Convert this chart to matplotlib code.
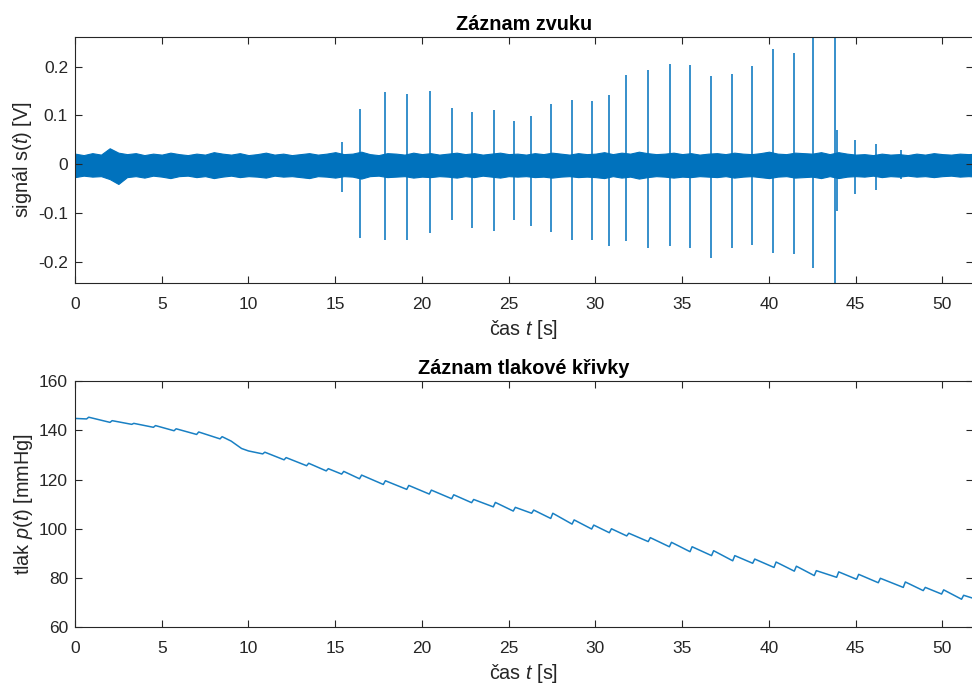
import numpy as np
import matplotlib
matplotlib.use("Agg")
import matplotlib.pyplot as plt

plt.rcParams['font.family'] = ['Liberation Sans', 'DejaVu Sans']
plt.rcParams['mathtext.fontset'] = 'custom'
plt.rcParams['mathtext.rm'] = 'Liberation Sans'
plt.rcParams['mathtext.it'] = 'Liberation Sans:italic'

# ---------------- data: sound record ----------------
# envelope of the background noise, every 0.5 s from 0 to 52 s
noise_t = np.arange(0, 52.5, 0.5)
noise_upper = [0.022, 0.019, 0.023, 0.020, 0.033, 0.024, 0.021, 0.023, 0.019, 0.022,
               0.020, 0.024, 0.021, 0.019, 0.022, 0.020, 0.025, 0.022, 0.020, 0.023,
               0.019, 0.021, 0.024, 0.020, 0.022, 0.019, 0.021, 0.023, 0.020, 0.022,
               0.025, 0.021, 0.022, 0.026, 0.021, 0.019, 0.023, 0.022, 0.020, 0.024,
               0.021, 0.023, 0.020, 0.022, 0.024, 0.021, 0.023, 0.020, 0.022, 0.024,
               0.021, 0.022, 0.020, 0.023, 0.021, 0.024, 0.022, 0.020, 0.023, 0.021,
               0.022, 0.025, 0.021, 0.024, 0.022, 0.026, 0.023, 0.021, 0.022, 0.024,
               0.021, 0.023, 0.020, 0.022, 0.023, 0.021, 0.024, 0.022, 0.021, 0.023,
               0.026, 0.022, 0.021, 0.024, 0.023, 0.022, 0.025, 0.021, 0.025, 0.022,
               0.020, 0.021, 0.019, 0.022, 0.020, 0.021, 0.019, 0.022, 0.020, 0.023,
               0.021, 0.020, 0.022, 0.021, 0.022]
noise_lower = [-0.026, -0.023, -0.025, -0.024, -0.030, -0.040, -0.026, -0.024, -0.027, -0.023,
               -0.025, -0.028, -0.024, -0.023, -0.026, -0.024, -0.028, -0.025, -0.023, -0.026,
               -0.024, -0.025, -0.027, -0.023, -0.025, -0.024, -0.026, -0.028, -0.024, -0.025,
               -0.027, -0.024, -0.025, -0.029, -0.024, -0.023, -0.026, -0.025, -0.024, -0.027,
               -0.025, -0.026, -0.024, -0.025, -0.027, -0.024, -0.026, -0.023, -0.025, -0.027,
               -0.024, -0.025, -0.024, -0.026, -0.025, -0.027, -0.025, -0.024, -0.026, -0.025,
               -0.026, -0.028, -0.024, -0.027, -0.025, -0.029, -0.026, -0.024, -0.025, -0.027,
               -0.025, -0.026, -0.024, -0.025, -0.026, -0.024, -0.027, -0.025, -0.024, -0.026,
               -0.028, -0.025, -0.024, -0.027, -0.026, -0.025, -0.028, -0.024, -0.028, -0.025,
               -0.024, -0.025, -0.023, -0.026, -0.024, -0.025, -0.023, -0.025, -0.024, -0.026,
               -0.024, -0.023, -0.025, -0.024, -0.025]

spike_t = [15.41, 16.41, 17.87, 19.14, 20.46, 21.71, 22.90, 24.13, 25.28, 26.30,
           27.42, 28.66, 29.80, 30.80, 31.74, 33.01, 34.32, 35.43, 36.68, 37.89,
           39.00, 40.21, 41.42, 42.55, 43.82, 43.90, 44.97, 46.18, 47.60]
spike_top = [0.045, 0.114, 0.149, 0.144, 0.151, 0.116, 0.108, 0.111, 0.089, 0.099,
             0.124, 0.132, 0.129, 0.142, 0.183, 0.193, 0.205, 0.203, 0.181, 0.184,
             0.202, 0.236, 0.227, 0.270, 0.270, 0.071, 0.050, 0.042, 0.030]
spike_bot = [-0.056, -0.151, -0.154, -0.155, -0.141, -0.113, -0.129, -0.137, -0.113, -0.125,
             -0.139, -0.155, -0.155, -0.166, -0.156, -0.171, -0.167, -0.171, -0.191, -0.171,
             -0.164, -0.181, -0.184, -0.211, -0.260, -0.096, -0.060, -0.052, -0.030]

# ---------------- data: pressure record ----------------
beat_t = [0.67, 2.02, 3.27, 4.52, 5.71, 7.01, 8.36, 10.82, 12.05, 13.35,
          14.48, 15.37, 16.40, 17.77, 19.12, 20.42, 21.71, 22.86, 24.11, 25.26,
          26.32, 27.42, 28.65, 29.78, 30.80, 31.80, 33.04, 34.26, 35.45, 36.69,
          37.91, 39.06, 40.29, 41.46, 42.61, 43.90, 45.05, 46.30, 47.74, 48.89,
          49.95, 51.10]
beat_dip = [144.6, 143.2, 142.4, 141.2, 139.8, 138.3, 136.5, 130.4, 128.0, 125.6,
            123.5, 122.2, 120.3, 118.0, 116.0, 114.1, 112.2, 110.6, 108.9, 107.2,
            106.3, 104.2, 101.9, 99.9, 98.4, 97.1, 94.8, 92.7, 90.7, 89.1,
            87.0, 86.0, 84.3, 82.8, 81.0, 80.3, 79.5, 78.1, 76.2, 74.9,
            73.5, 71.4]
beat_peak = [145.3, 143.9, 142.8, 141.9, 140.6, 139.3, 137.4, 131.1, 128.9, 126.6,
             124.4, 123.3, 121.8, 119.5, 117.6, 115.7, 113.8, 111.9, 110.7, 108.7,
             107.6, 106.3, 103.6, 101.5, 100.0, 98.2, 96.4, 94.5, 92.7, 91.1,
             89.1, 87.7, 86.5, 84.8, 83.0, 82.5, 81.5, 79.9, 78.4, 76.2,
             75.2, 73.0]
extra_t = [0.0, 9.0, 9.6, 10.0, 51.76]
extra_p = [144.8, 135.6, 132.6, 131.6, 71.8]

blue = '#0072BD'
axcol = '#262626'

fig = plt.figure(figsize=(9.72, 6.87), dpi=100)
W, H = 972.0, 687.0
ax1 = fig.add_axes([75 / W, 1 - 283.3 / H, (973 - 75) / W, (283.3 - 36.7) / H])
ax2 = fig.add_axes([75 / W, 1 - 627.3 / H, (973 - 75) / W, (627.3 - 381) / H])

# sound
ax1.fill_between(noise_t, noise_lower, noise_upper, color=blue, lw=0.8, edgecolor=blue)
ax1.vlines(spike_t, spike_bot, spike_top, color=blue, lw=1.1)
ax1.set_xlim(0, 51.76)
ax1.set_ylim(-0.243, 0.261)
ax1.set_yticks([-0.2, -0.1, 0, 0.1, 0.2])
ax1.set_yticklabels(['-0.2', '-0.1', '0', '0.1', '0.2'])
ax1.set_title('Záznam zvuku', fontsize=14.3, fontweight='bold', pad=5)
ax1.set_xlabel('čas $t$ [s]', fontsize=14.3, color=axcol, labelpad=4)
ax1.set_ylabel('signál s($t$) [V]', fontsize=14.3, color=axcol, labelpad=3)

# pressure
pts = [(t, p) for t, p in zip(beat_t, beat_dip)]
pts += [(t + 0.12, p) for t, p in zip(beat_t, beat_peak)]
pts += list(zip(extra_t, extra_p))
pts.sort()
pt = [a for a, b in pts]
pp = [b for a, b in pts]
ax2.plot(pt, pp, color=blue, lw=1.1, alpha=0.9)
ax2.set_xlim(0, 51.76)
ax2.set_ylim(60, 160)
ax2.set_yticks([60, 80, 100, 120, 140, 160])
ax2.set_title('Záznam tlakové křivky', fontsize=14.3, fontweight='bold', pad=5)
ax2.set_xlabel('čas $t$ [s]', fontsize=14.3, color=axcol, labelpad=4)
ax2.set_ylabel('tlak $p$($t$) [mmHg]', fontsize=14.3, color=axcol, labelpad=3)

for ax in (ax1, ax2):
    ax.set_xticks([0, 5, 10, 15, 20, 25, 30, 35, 40, 45, 50])
    ax.tick_params(direction='in', length=5, width=0.8, colors=axcol,
                   labelsize=12.5, top=True, right=True)
    ax.tick_params(axis='x', pad=10)
    ax.tick_params(axis='y', pad=5)
    for s in ax.spines.values():
        s.set_color(axcol)
        s.set_linewidth(0.8)

fig.savefig('out.png', dpi=100)
